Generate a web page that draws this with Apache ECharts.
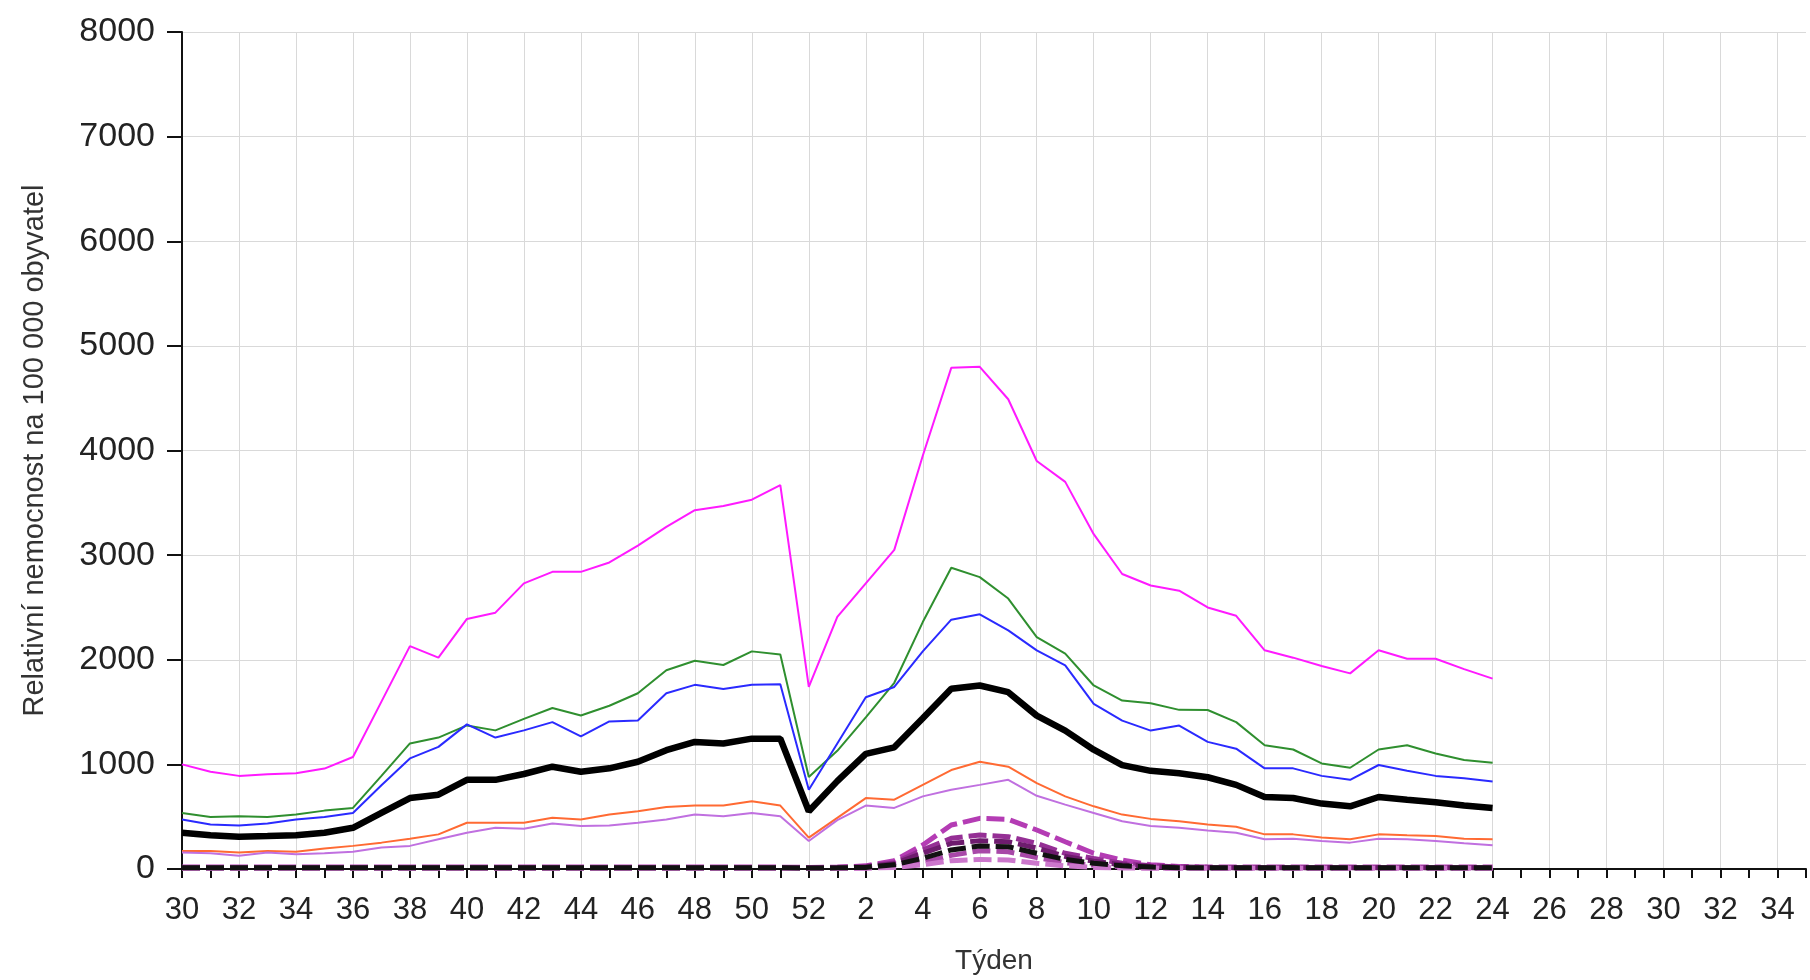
<!DOCTYPE html>
<html>
<head>
<meta charset="utf-8">
<title>Relativní nemocnost</title>
<script src="https://cdn.jsdelivr.net/npm/echarts@6/dist/echarts.min.js"></script>
<style>
  html, body { margin: 0; padding: 0; background: #ffffff; }
  #chart { width: 1810px; height: 980px; }
</style>
</head>
<body>
<div id="chart"></div>
<script>
// Season weeks: 30..52 of the first year, then 1..35 of the next one
const weeks = ['30','31','32','33','34','35','36','37','38','39','40','41','42','43','44','45','46','47','48','49','50','51','52',
  '1','2','3','4','5','6','7','8','9','10','11','12','13','14','15','16','17','18','19','20','21','22','23','24',
  '25','26','27','28','29','30','31','32','33','34','35'];

// Y axis range
const yMin = 0, yMax = 8000, yStep = 1000;

// Acute respiratory infections per 100 000 inhabitants (weeks 30..52, 1..24)
const ariMagenta = [1000, 930, 890, 905, 915, 960, 1070, 1600, 2130, 2020, 2390, 2450, 2730, 2840, 2840, 2930, 3090, 3270, 3430, 3470, 3530, 3670, 1740,
  2410, 2730, 3050, 3950, 4790, 4800, 4490, 3900, 3700, 3200, 2820, 2710, 2660, 2500, 2420, 2090, 2020, 1940, 1870, 2090, 2010, 2010, 1910, 1820];
const ariGreen = [536, 498, 505, 498, 520, 558, 584, 890, 1200, 1256, 1372, 1325, 1435, 1539, 1467, 1560, 1680, 1900, 1990, 1950, 2080, 2050, 880,
  1130, 1450, 1780, 2360, 2880, 2790, 2585, 2217, 2058, 1754, 1610, 1585, 1521, 1520, 1404, 1183, 1142, 1009, 968, 1142, 1183, 1104, 1041, 1016];
const ariBlue = [473, 426, 416, 435, 473, 498, 536, 800, 1057, 1167, 1382, 1256, 1325, 1404, 1268, 1410, 1420, 1680, 1760, 1720, 1760, 1765, 757,
  1200, 1642, 1740, 2080, 2383, 2434, 2281, 2089, 1946, 1578, 1418, 1323, 1371, 1215, 1150, 962, 962, 890, 852, 994, 940, 890, 868, 836];
const ariTotal = [347, 322, 309, 315, 322, 347, 394, 536, 678, 710, 852, 852, 908, 978, 930, 962, 1025, 1136, 1215, 1199, 1246, 1246, 552,
  840, 1100, 1163, 1440, 1722, 1754, 1690, 1466, 1323, 1140, 993, 938, 916, 877, 804, 688, 678, 625, 599, 688, 662, 637, 606, 584];
const ariOrange = [173, 173, 158, 173, 164, 196, 221, 252, 290, 331, 442, 442, 442, 489, 473, 520, 552, 593, 606, 606, 647, 606, 300,
  489, 678, 662, 804, 946, 1025, 978, 820, 694, 599, 520, 479, 457, 426, 404, 331, 331, 300, 284, 331, 322, 315, 290, 284];
const ariViolet = [158, 151, 126, 158, 142, 151, 164, 205, 221, 284, 347, 394, 385, 435, 410, 416, 442, 473, 520, 505, 536, 505, 268,
  467, 606, 584, 694, 757, 804, 852, 700, 615, 536, 457, 410, 394, 369, 347, 284, 290, 268, 252, 290, 284, 268, 246, 227];

// Influenza per 100 000 inhabitants (dashed lines)
const fluA = [18, 18, 18, 18, 18, 18, 18, 18, 18, 18, 18, 18, 18, 18, 18, 18, 18, 18, 18, 18, 18, 18, 15,
  18, 30, 80, 230, 420, 484, 475, 373, 261, 150, 86, 40, 25, 20, 18, 18, 18, 18, 18, 18, 18, 18, 18, 18];
const fluB = [15, 15, 15, 15, 15, 15, 15, 15, 15, 15, 15, 15, 15, 15, 15, 15, 15, 15, 15, 15, 15, 15, 12,
  15, 25, 60, 182, 293, 325, 309, 245, 150, 100, 55, 30, 20, 16, 15, 15, 15, 15, 15, 15, 15, 15, 15, 15];
const fluC = [12, 12, 12, 12, 12, 12, 12, 12, 12, 12, 12, 12, 12, 12, 12, 12, 12, 12, 12, 12, 12, 12, 10,
  12, 20, 50, 150, 245, 270, 260, 200, 120, 75, 40, 25, 16, 13, 12, 12, 12, 12, 12, 12, 12, 12, 12, 12];
const fluTotal = [11, 11, 11, 11, 11, 11, 11, 11, 11, 11, 11, 11, 11, 11, 11, 11, 11, 11, 11, 11, 11, 11, 9,
  11, 15, 40, 102, 182, 220, 213, 150, 92, 54, 30, 18, 13, 12, 11, 11, 11, 11, 11, 11, 11, 11, 11, 11];
const fluD = [8, 8, 8, 8, 8, 8, 8, 8, 8, 8, 8, 8, 8, 8, 8, 8, 8, 8, 8, 8, 8, 8, 6,
  8, 10, 25, 60, 130, 175, 165, 110, 60, 35, 20, 12, 9, 8, 8, 8, 8, 8, 8, 8, 8, 8, 8, 8];
const fluE = [6, 6, 6, 6, 6, 6, 6, 6, 6, 6, 6, 6, 6, 6, 6, 6, 6, 6, 6, 6, 6, 6, 5,
  6, 8, 15, 40, 80, 92, 86, 54, 30, 15, 10, 7, 6, 6, 6, 6, 6, 6, 6, 6, 6, 6, 6, 6];

const font = 'Liberation Sans, Arial, sans-serif';

function solid(name, data, color, width) {
  return { name, type: 'line', data, symbol: 'none', smooth: false,
    lineStyle: { color, width }, itemStyle: { color }, z: 3 };
}
function dashed(name, data, color) {
  return { name, type: 'line', data, symbol: 'none', smooth: false,
    lineStyle: { color, width: 5, type: [18, 6] }, itemStyle: { color }, z: 4 };
}

const chart = echarts.init(document.getElementById('chart'), null, { renderer: 'canvas' });
chart.setOption({
  backgroundColor: '#ffffff',
  animation: false,
  grid: { left: 182, right: 4, top: 32, bottom: 111, containLabel: false },
  xAxis: {
    type: 'category',
    data: weeks,
    boundaryGap: false,
    name: 'Týden',
    nameLocation: 'middle',
    nameGap: 78,
    nameTextStyle: { fontFamily: font, fontSize: 28, color: '#333' },
    axisLine: { show: true, onZero: true, lineStyle: { color: '#111', width: 2 } },
    axisTick: { show: true, interval: 0, length: 9, lineStyle: { color: '#111', width: 2 } },
    axisLabel: { interval: 1, margin: 26, fontFamily: font, fontSize: 31, color: '#222' },
    splitLine: { show: true, interval: 1, lineStyle: { color: '#d9d9d9', width: 1 } }
  },
  yAxis: {
    type: 'value',
    min: yMin, max: yMax, interval: yStep,
    name: 'Relativní nemocnost na 100 000 obyvatel',
    nameLocation: 'middle',
    nameGap: 133,
    nameRotate: 90,
    nameTextStyle: { fontFamily: font, fontSize: 29, color: '#333' },
    axisLine: { show: true, lineStyle: { color: '#111', width: 2 } },
    axisTick: { show: true, length: 15, lineStyle: { color: '#111', width: 2 } },
    axisLabel: { margin: 27, fontFamily: font, fontSize: 34, color: '#222', formatter: v => String(v) },
    splitLine: { show: true, lineStyle: { color: '#d9d9d9', width: 1 } }
  },
  series: [
    solid('ARI 15–24', ariMagenta, '#ff1aff', 2),
    solid('ARI 0–5', ariGreen, '#2f8f2f', 2),
    solid('ARI 6–14', ariBlue, '#2a2aff', 2),
    solid('ARI 25–59', ariOrange, '#ff6a33', 2),
    solid('ARI 60+', ariViolet, '#c070e0', 2),
    solid('ARI celkem', ariTotal, '#000000', 6.5),
    dashed('chřipka A', fluA, '#b43cb4'),
    dashed('chřipka B', fluB, '#952f95'),
    dashed('chřipka C', fluC, '#6e1c6e'),
    dashed('chřipka D', fluD, '#a848a8'),
    dashed('chřipka E', fluE, '#cc77cc'),
    dashed('chřipka celkem', fluTotal, '#111111')
  ]
});
</script>
</body>
</html>
